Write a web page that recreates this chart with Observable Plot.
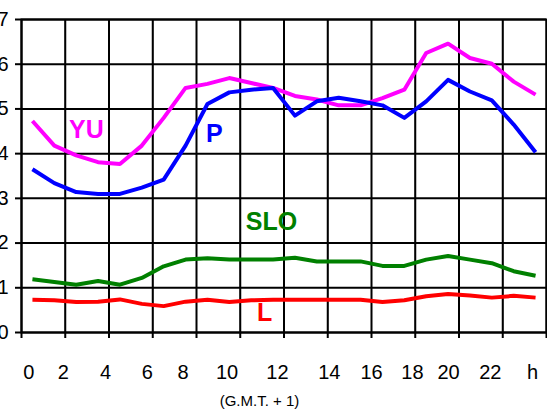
<!DOCTYPE html>
<html>
<head>
<meta charset="utf-8">
<script src="https://cdn.jsdelivr.net/npm/d3@7"></script>
<script src="https://cdn.jsdelivr.net/npm/@observablehq/plot@0.6"></script>
<style>
  html, body { margin: 0; padding: 0; background: #fff; }
  #chart svg { display: block; }
</style>
</head>
<body>
<div id="chart"></div>
<script>
// Hour midpoints (category positions)
const hours = [0.5,1.5,2.5,3.5,4.5,5.5,6.5,7.5,8.5,9.5,10.5,11.5,12.5,13.5,14.5,15.5,16.5,17.5,18.5,19.5,20.5,21.5,22.5,23.5];

// Series values
const yuValues  = [4.73,4.18,3.96,3.81,3.77,4.18,4.80,5.47,5.56,5.69,5.58,5.47,5.29,5.21,5.08,5.08,5.24,5.43,6.25,6.46,6.14,6.01,5.61,5.32];
const pValues   = [3.65,3.34,3.14,3.10,3.10,3.24,3.42,4.18,5.11,5.37,5.43,5.47,4.85,5.17,5.25,5.17,5.08,4.80,5.17,5.65,5.39,5.19,4.65,4.03];
const sloValues = [1.19,1.13,1.07,1.15,1.07,1.22,1.48,1.63,1.66,1.63,1.63,1.63,1.67,1.59,1.59,1.59,1.49,1.49,1.63,1.71,1.63,1.55,1.37,1.27];
const lValues   = [0.73,0.72,0.68,0.69,0.74,0.64,0.59,0.69,0.73,0.68,0.72,0.73,0.73,0.73,0.73,0.73,0.68,0.72,0.81,0.86,0.83,0.78,0.82,0.78];

const seriesNames  = ["YU", "P", "SLO", "L"];
const seriesColors = ["#ff00ff", "#0000ff", "#008000", "#ff0000"];
const seriesValues = [yuValues, pValues, sloValues, lValues];

// In-chart series labels (data coordinates)
const labelX = [2.97, 8.82, 11.43, 11.11];
const labelY = [4.34, 4.25, 2.30, 0.25];

// Axis ticks
const gridXTicks = [0,2,4,6,8,10,12,14,16,18,20,22,24];
const yTicks = [0,1,2,3,4,5,6,7];
const xTickLabels = ["0","2","4","6","8","10","12","14","16","18","20","22","h"];
const xTickLabelPos = [0.33,1.91,3.84,5.75,7.39,9.40,11.70,14.07,16.0,17.87,19.52,21.43,23.36];
const caption = "(G.M.T. + 1)";
const captionX = 10.88;

const rows = [];
seriesNames.forEach((name, s) => {
  hours.forEach((h, i) => rows.push({series: name, hour: h, value: seriesValues[s][i]}));
});
const labels = seriesNames.map((name, i) => ({name, x: labelX[i], y: labelY[i], color: seriesColors[i]}));
const xTicks = xTickLabels.map((t, i) => ({t, x: xTickLabelPos[i]}));

const font = "'Liberation Sans', Arial, Helvetica, sans-serif";

const chart = Plot.plot({
  width: 547,
  height: 415,
  marginTop: 19,
  marginBottom: 83,
  marginLeft: 21,
  marginRight: 1,
  style: {fontFamily: font, fontSize: "20px", background: "#fff", color: "#000"},
  x: {domain: [0, 24], axis: null},
  y: {domain: [0, 7], axis: null},
  color: {domain: seriesNames, range: seriesColors},
  marks: [
    Plot.gridX(gridXTicks, {stroke: "#000", strokeOpacity: 1, strokeWidth: 2}),
    Plot.gridY(yTicks, {stroke: "#000", strokeOpacity: 1, strokeWidth: 2}),
    Plot.frame({stroke: "#000", strokeWidth: 2}),
    Plot.tickX(gridXTicks, {x: d => d, frameAnchor: "bottom", y1: 0, y2: 0, insetTop: 0}),
    Plot.axisX(gridXTicks, {tickSize: 6, strokeWidth: 2, stroke: "#000", tickFormat: () => "", label: null}),
    Plot.axisY(yTicks, {tickSize: 6, tickPadding: 7, strokeWidth: 2, stroke: "#000", fontSize: 20, label: null, fill: "#000"}),
    Plot.line(rows, {x: "hour", y: "value", z: "series", stroke: "series", strokeWidth: 4, strokeLinejoin: "round", strokeLinecap: "butt"}),
    Plot.text(labels, {x: "x", y: "y", text: "name", fill: "color", fontSize: 25, fontWeight: "bold", lineAnchor: "bottom", textAnchor: "middle"}),
    Plot.text(xTicks, {x: "x", text: "t", frameAnchor: "bottom", dy: 46, lineAnchor: "bottom", textAnchor: "middle", fontSize: 20, fill: "#000"}),
    Plot.text([caption], {x: captionX, text: d => d, frameAnchor: "bottom", dy: 73, lineAnchor: "bottom", textAnchor: "middle", fontSize: 15, fill: "#000"})
  ]
});
document.getElementById("chart").appendChild(chart);
</script>
</body>
</html>
